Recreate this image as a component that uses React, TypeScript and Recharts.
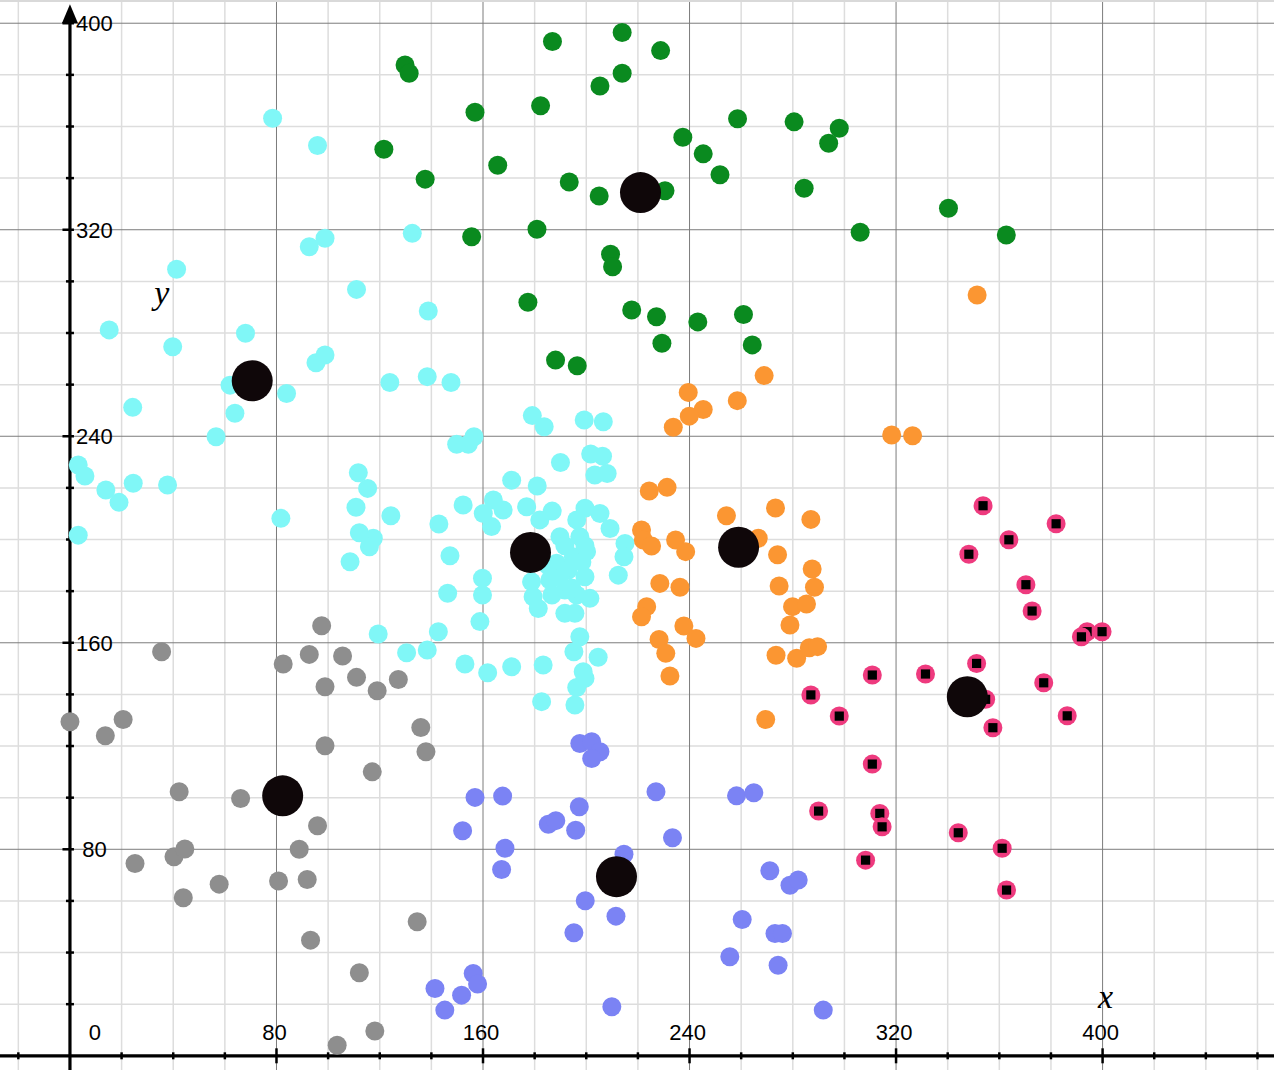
import { ScatterChart, Scatter, XAxis, YAxis, CartesianGrid } from 'recharts'

const X_DOMAIN: [number, number] = [-27.1, 466.4]
const Y_DOMAIN: [number, number] = [-5.5, 409]

const minorGridX = [-20, 20, 40, 60, 100, 120, 140, 180, 200, 220, 260, 280, 300, 340, 360, 380, 420, 440, 460]
const majorGridX = [80, 160, 240, 320, 400]
const minorGridY = [20, 40, 60, 100, 120, 140, 180, 200, 220, 260, 280, 300, 340, 360, 380]
const majorGridY = [80, 160, 240, 320, 400]

const xTickValues = [-20, 20, 40, 60, 80, 100, 120, 140, 160, 180, 200, 220, 240, 260, 280, 300, 320, 340, 360, 380, 400, 420, 440, 460]
const yTickValues = [20, 40, 60, 80, 100, 120, 140, 160, 180, 200, 220, 240, 260, 280, 300, 320, 340, 360, 380, 400]
const xLabelValues = [0, 80, 160, 240, 320, 400]
const xLabelText = ['0', '80', '160', '240', '320', '400']
const yLabelValues = [80, 160, 240, 320, 400]
const yLabelText = ['80', '160', '240', '320', '400']

const green = [
  [129.8, 383.8], [131.4, 380.6], [156.9, 365.5], [186.9, 392.9], [213.9, 396.4], [213.9, 380.6],
  [205.3, 375.7], [182.3, 368.0], [121.6, 351.2], [137.6, 339.6], [165.7, 345.0], [193.4, 338.5],
  [205.0, 333.1], [155.6, 317.3], [180.9, 320.2], [209.4, 310.5], [210.2, 305.7], [177.4, 291.9],
  [217.6, 288.9], [188.1, 269.5], [196.5, 267.3], [228.8, 389.4], [237.4, 355.8], [245.3, 349.4],
  [251.8, 341.3], [258.6, 363.0], [280.5, 361.8], [298.0, 359.3], [293.9, 353.5], [284.4, 336.1],
  [230.5, 335.1], [306.1, 319.0], [340.3, 328.3], [227.2, 286.3], [243.2, 284.3], [260.9, 287.2],
  [229.3, 276.0], [264.3, 275.4], [362.7, 318.0],
]

const cyan = [
  [78.5, 363.2], [95.9, 352.6], [92.7, 313.4], [98.8, 316.7], [41.3, 304.7], [15.2, 281.2],
  [39.8, 274.7], [68.0, 279.9], [132.6, 318.6], [111.0, 296.9], [138.8, 288.5],
  [62.0, 259.8], [83.9, 256.6], [95.3, 268.5], [98.8, 271.5], [24.3, 251.2], [63.9, 248.9],
  [56.6, 239.8], [3.2, 228.9], [5.8, 224.6], [13.9, 219.2], [24.5, 221.8], [37.8, 221.1],
  [19.0, 214.4], [3.2, 201.7], [81.7, 208.2],
  [123.9, 260.8], [138.4, 263.1], [147.6, 260.8], [179.1, 248.0], [183.7, 243.7], [199.2, 246.3],
  [206.6, 245.6], [149.8, 236.9], [154.3, 236.9], [156.5, 239.8], [190.0, 229.8], [201.7, 233.1],
  [206.3, 232.3], [203.3, 225.0], [208.1, 225.6], [111.7, 225.9], [115.3, 219.8], [110.8, 212.5],
  [124.3, 209.2], [112.1, 202.6], [117.5, 200.5], [116.0, 197.2], [108.5, 191.4], [142.9, 206.0],
  [152.3, 213.4], [171.1, 223.0], [181.0, 220.7], [176.9, 212.7], [160.1, 210.1], [164.0, 215.3],
  [167.8, 211.4], [163.3, 205.0], [186.8, 211.0], [199.5, 212.1], [205.3, 210.1], [209.2, 204.3],
  [196.3, 207.6], [182.0, 207.6],
  [189.8, 201.1], [197.5, 201.1], [200.1, 195.3], [195.0, 193.3], [188.5, 190.8], [193.0, 188.2],
  [199.5, 185.6], [185.9, 184.3], [191.7, 180.4], [196.3, 178.5], [178.8, 183.6], [179.4, 177.8],
  [181.4, 173.3], [191.7, 171.4], [195.6, 171.4], [215.0, 198.5], [214.6, 193.3], [212.4, 186.2],
  [189.8, 186.2], [194.4, 181.2], [198.3, 191.3], [186.7, 178.5], [201.4, 177.2], [191.7, 197.6],
  [185.1, 190.0], [199.5, 197.6],
  [159.8, 185.0], [159.8, 178.5], [147.2, 193.7], [146.3, 179.2], [158.8, 168.2], [142.7, 164.3],
  [119.4, 163.4], [130.4, 156.1], [138.4, 157.2], [153.0, 151.8], [161.8, 148.4], [171.1, 150.7],
  [183.3, 151.4], [197.5, 162.3], [195.2, 156.5], [204.6, 154.4], [198.8, 148.8], [199.5, 146.2],
  [196.3, 142.7], [182.7, 137.2], [195.6, 135.9],
]

const orange = [
  [268.9, 263.5], [239.5, 257.0], [258.5, 253.8], [245.3, 250.4], [239.9, 247.8], [233.7, 243.5],
  [318.3, 240.5], [326.4, 240.2], [224.4, 218.8], [231.3, 220.2], [254.3, 209.2], [273.3, 212.2],
  [287.0, 207.8], [221.4, 203.7], [222.1, 199.8], [225.3, 197.5], [234.6, 199.8], [238.5, 195.3],
  [266.6, 200.5], [274.1, 194.1], [287.5, 188.6], [288.4, 181.5], [274.7, 182.0], [228.5, 183.0],
  [236.3, 181.5], [223.4, 174.0], [221.4, 170.1], [279.9, 174.0], [285.3, 175.0], [278.9, 166.9],
  [237.8, 166.5], [242.5, 161.7], [228.2, 161.3], [230.8, 155.9], [232.4, 147.1], [273.5, 155.2],
  [281.5, 154.0], [286.4, 158.1], [289.6, 158.5], [269.5, 130.3], [351.4, 294.7],
]

const gray = [
  [35.5, 156.5], [97.5, 166.6], [92.7, 155.5], [82.6, 151.8], [98.8, 143.0], [105.6, 154.9],
  [111.0, 146.6], [119.0, 141.4], [127.2, 145.8], [0, 129.4], [13.7, 124.0], [20.6, 130.3],
  [98.8, 120.1], [42.3, 102.3], [66.1, 99.7], [95.9, 89.1], [88.8, 80.0], [40.3, 77.1],
  [44.5, 80.1], [25.2, 74.5], [57.8, 66.5], [80.8, 67.7], [91.9, 68.3], [43.9, 61.2],
  [93.2, 44.8], [135.9, 127.2], [137.9, 117.8], [117.1, 110.0], [134.5, 51.9], [112.1, 32.2],
  [118.1, 9.6], [103.5, 4.1],
]

const blue = [
  [156.9, 100.1], [167.6, 100.6], [152.1, 87.2], [168.5, 80.4], [167.2, 72.2], [197.5, 121.0],
  [202.1, 121.7], [205.3, 117.8], [202.1, 115.2], [197.3, 96.5], [185.3, 89.7], [188.2, 91.1],
  [195.9, 87.4], [214.6, 78.1], [199.6, 60.1], [211.5, 54.1], [195.2, 47.7], [156.2, 31.9],
  [157.9, 27.8], [141.4, 26.1], [151.7, 23.5], [145.2, 17.7], [209.9, 19.0], [227.0, 102.3],
  [233.4, 84.5], [258.2, 100.7], [264.9, 101.9], [271.1, 71.7], [278.9, 66.1], [282.1, 68.1],
  [260.4, 52.8], [273.1, 47.4], [276.0, 47.4], [255.6, 38.4], [274.3, 35.1], [291.8, 17.7],
]

const pink = [
  [310.8, 147.5], [331.4, 147.9], [287.0, 139.8], [348.2, 194.3], [351.2, 152.0], [298.0, 131.6],
  [353.7, 213.1], [382.0, 206.1], [363.7, 199.9], [370.3, 182.5], [372.7, 172.3], [394.0, 164.3],
  [391.8, 162.3], [399.8, 164.3], [377.2, 144.5], [354.7, 138.1], [386.3, 131.7], [310.8, 113.0],
  [290.0, 94.8], [313.7, 93.9], [314.6, 88.7], [344.1, 86.4], [308.2, 75.8], [357.5, 127.1],
  [361.1, 80.4], [362.8, 64.2],
]

const centroids = [
  [221.0, 334.4], [70.6, 261.5], [178.4, 195.0], [259.0, 197.0], [347.6, 139.1], [82.4, 100.7], [211.7, 69.4],
]

const FONT = '"Liberation Sans", Arial, Helvetica, sans-serif'
const toPts = (arr: number[][]) => arr.map(([x, y]) => ({ x, y }))

const dot = (fill: string, r = 9.5) => (p: any) => <circle cx={p.cx} cy={p.cy} r={r} fill={fill} />

const pinkDot = (p: any) => (
  <g>
    <circle cx={p.cx} cy={p.cy} r={9.5} fill="#ee3a7e" />
    <rect x={p.cx - 4.6} y={p.cy - 4.6} width={9.2} height={9.2} fill="#000" />
  </g>
)

const noDot = () => <g />

const yTickShape = (p: any) => {
  const major = p.payload.y % 80 === 0
  return <line x1={p.cx - (major ? 7.5 : 4)} x2={p.cx + 4} y1={p.cy} y2={p.cy} stroke="#000" strokeWidth={2.5} />
}

const xTickShape = (p: any) => {
  const major = p.payload.x % 80 === 0
  const h = major ? 7.5 : 3.5
  return <line x1={p.cx} x2={p.cx} y1={p.cy - h} y2={p.cy + h} stroke="#000" strokeWidth={2.5} />
}

const yLabelShape = (p: any) => (
  <text x={p.cx + 24.5} y={p.cy + 8} textAnchor="middle" fontSize={22} fontFamily={FONT} fill="#000">
    {p.payload.label}
  </text>
)

const xLabelShape = (p: any) => (
  <text x={p.payload.x === 0 ? p.cx + 25 : p.cx - 2} y={p.cy - 16} textAnchor="middle" fontSize={22} fontFamily={FONT} fill="#000">
    {p.payload.label}
  </text>
)

const arrowShape = (p: any) => (
  <path d={`M${p.cx},${p.cy - 19} L${p.cx - 8},${p.cy} L${p.cx + 8},${p.cy} Z`} fill="#000" />
)

const axisNameShape = (p: any) => (
  <text x={p.cx} y={p.cy} textAnchor="middle" fontSize={34} fontStyle="italic" fontFamily='"Liberation Serif", "Times New Roman", serif' fill="#000">
    {p.payload.label}
  </text>
)

export default function App() {
  const yAxisLine = [{ x: 0, y: Y_DOMAIN[0] }, { x: 0, y: 400 }]
  const xAxisLine = [{ x: X_DOMAIN[0], y: 0 }, { x: X_DOMAIN[1], y: 0 }]

  return (
    <div style={{ position: 'absolute', left: 0, top: 0, width: 1274, height: 1070, background: '#fff' }}>
      <ScatterChart width={1274} height={1070} margin={{ top: 0, right: 0, bottom: 0, left: 0 }}>
        <XAxis type="number" dataKey="x" domain={X_DOMAIN} allowDataOverflow hide />
        <YAxis type="number" dataKey="y" domain={Y_DOMAIN} allowDataOverflow hide />
        <CartesianGrid stroke="#dddddd" strokeWidth={1.5} verticalValues={minorGridX} horizontalValues={minorGridY} />
        <CartesianGrid stroke="#7c7c7c" strokeWidth={1} verticalValues={majorGridX} horizontalValues={majorGridY} />

        <Scatter data={yAxisLine} line={{ stroke: '#000', strokeWidth: 3.2 }} shape={noDot} isAnimationActive={false} />
        <Scatter data={xAxisLine} line={{ stroke: '#000', strokeWidth: 3.2 }} shape={noDot} isAnimationActive={false} />
        <Scatter data={[{ x: 0, y: 400 }]} shape={arrowShape} isAnimationActive={false} />
        <Scatter data={yTickValues.map((y) => ({ x: 0, y }))} shape={yTickShape} isAnimationActive={false} />
        <Scatter data={xTickValues.map((x) => ({ x, y: 0 }))} shape={xTickShape} isAnimationActive={false} />
        <Scatter data={yLabelValues.map((y, i) => ({ x: 0, y, label: yLabelText[i] }))} shape={yLabelShape} isAnimationActive={false} />
        <Scatter data={xLabelValues.map((x, i) => ({ x, y: 0, label: xLabelText[i] }))} shape={xLabelShape} isAnimationActive={false} />
        <Scatter data={[{ x: 35.6, y: 291.2, label: 'y' }, { x: 401.1, y: 18.5, label: 'x' }]} shape={axisNameShape} isAnimationActive={false} />

        <Scatter data={toPts(gray)} shape={dot('#8e8e8e')} isAnimationActive={false} />
        <Scatter data={toPts(cyan)} shape={dot('#80f7f7')} isAnimationActive={false} />
        <Scatter data={toPts(orange)} shape={dot('#fb9632')} isAnimationActive={false} />
        <Scatter data={toPts(green)} shape={dot('#0a8a1f')} isAnimationActive={false} />
        <Scatter data={toPts(blue)} shape={dot('#7b83f4')} isAnimationActive={false} />
        <Scatter data={toPts(pink)} shape={pinkDot} isAnimationActive={false} />
        <Scatter data={toPts(centroids)} shape={dot('#0f0709', 20.5)} isAnimationActive={false} />
      </ScatterChart>
      <div style={{ position: 'absolute', left: 0, top: 0, width: 1274, height: 2, background: '#d9d9d9' }} />
    </div>
  )
}
